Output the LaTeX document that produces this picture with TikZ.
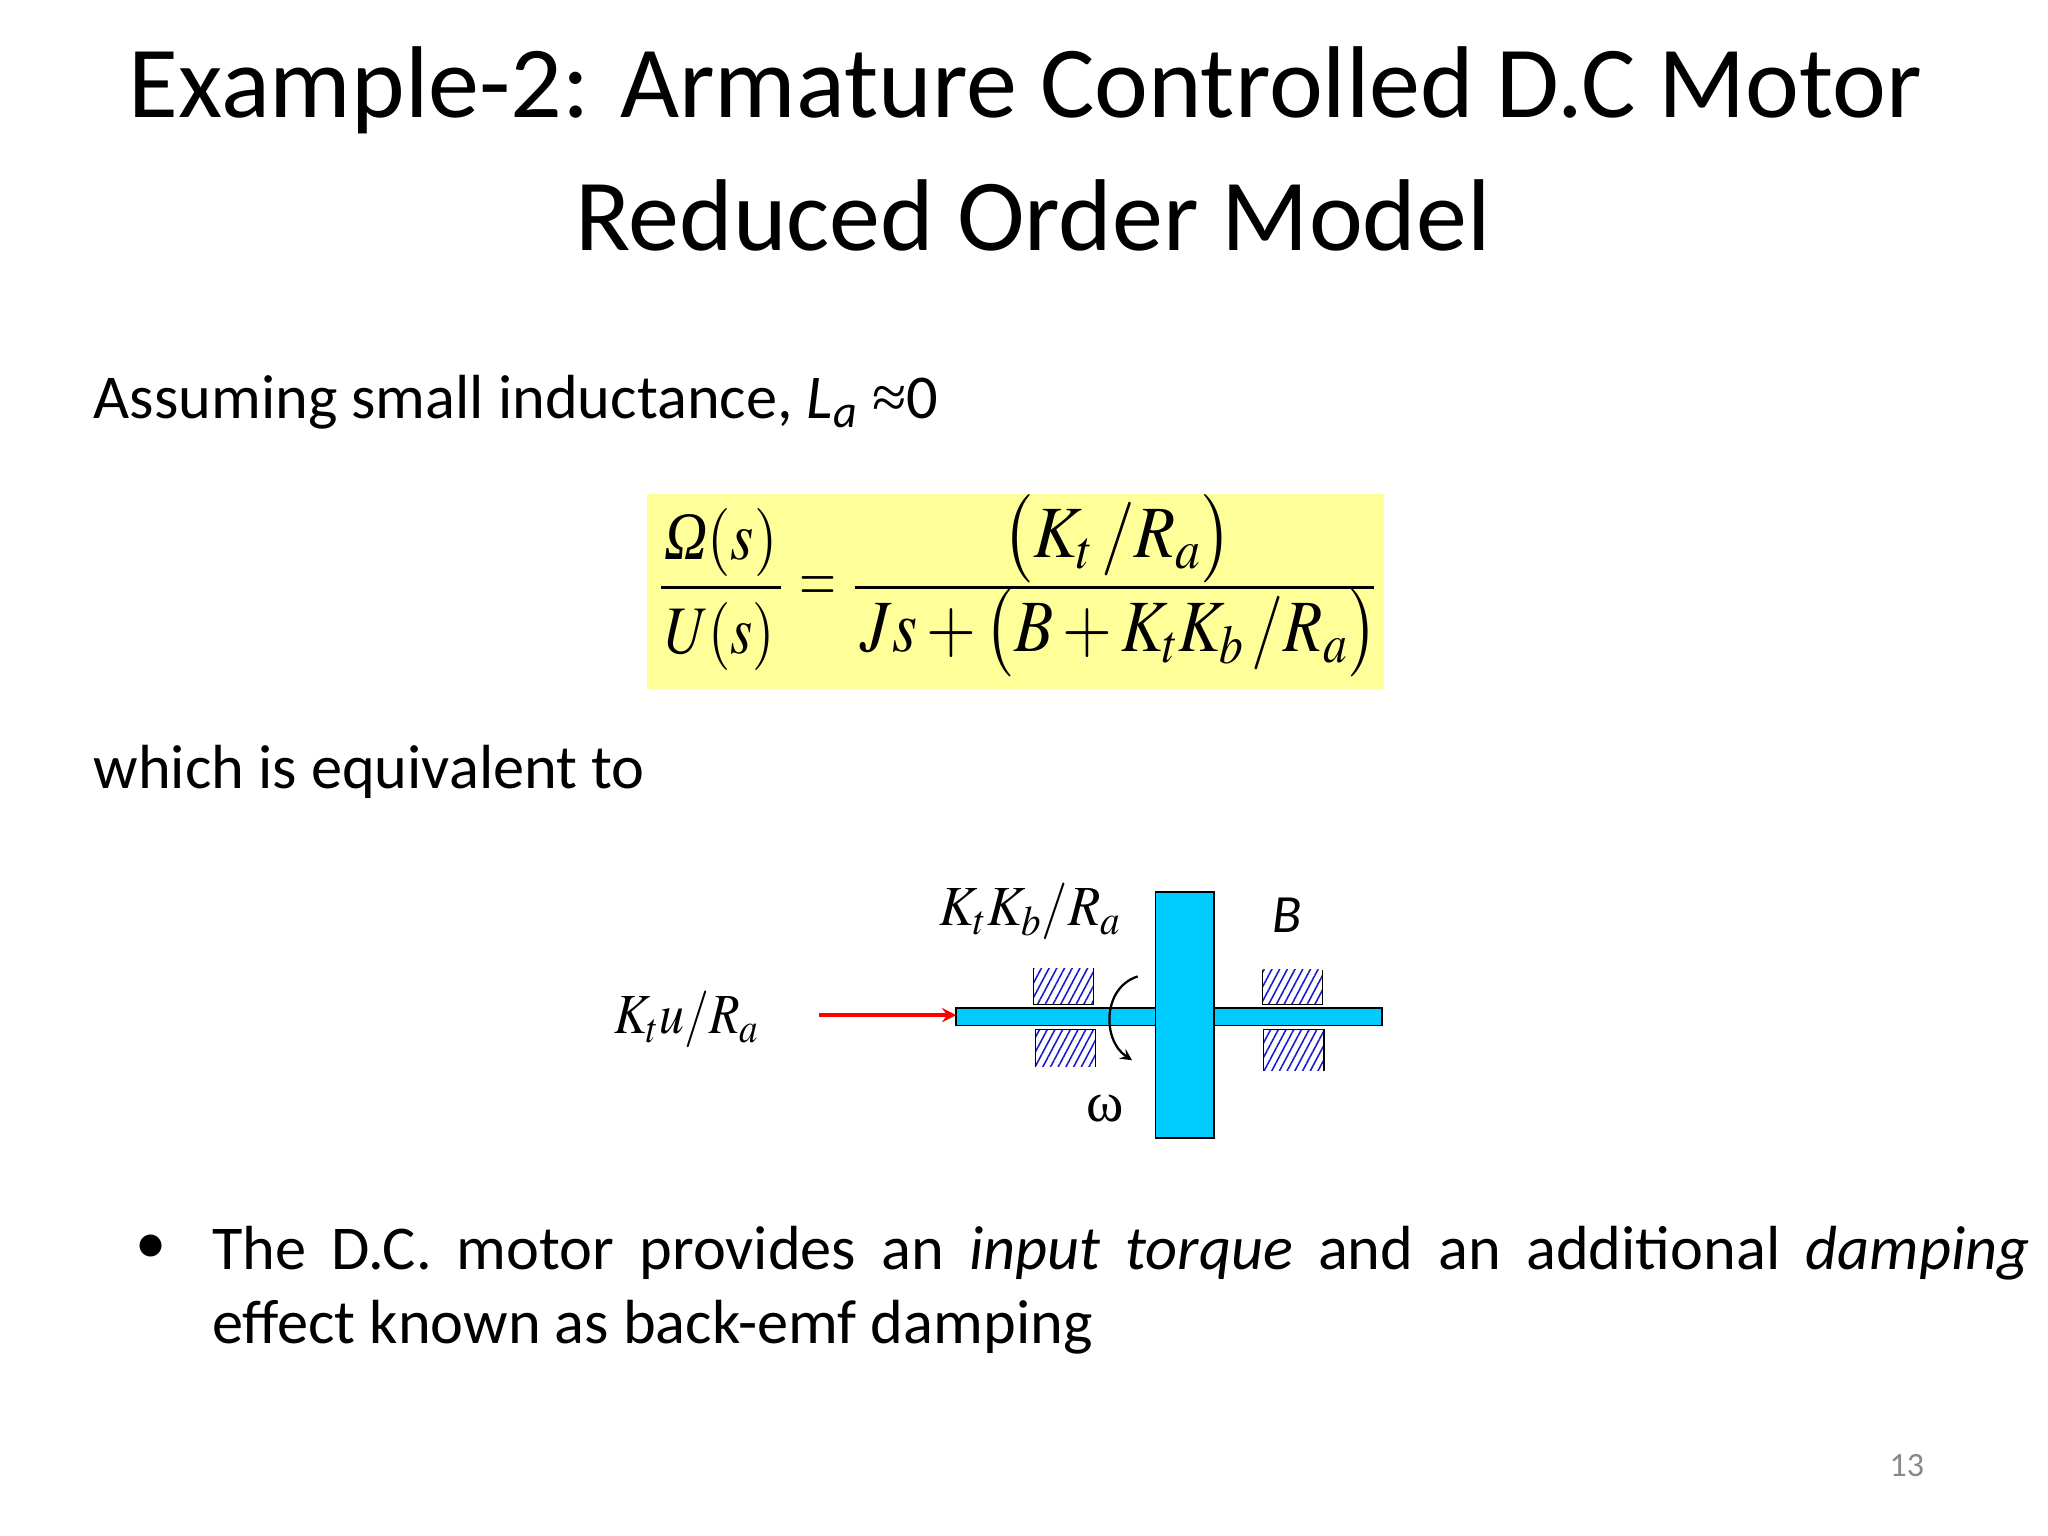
\documentclass[tikz,border=0pt]{standalone}
\usepackage{amsmath}
\usepackage{mathptmx}
\usepackage[no-math]{fontspec}
\setmainfont{Carlito}
\newfontfamily\timesf{Liberation Serif}
\usetikzlibrary{patterns.meta}
\definecolor{shaftblue}{HTML}{00CCFF}
\definecolor{formulayellow}{HTML}{FFFF99}
\definecolor{numgray}{HTML}{898989}
\definecolor{hatchblue}{HTML}{1A1ACC}
\newcommand{\fsz}[1]{\fontsize{#1}{1.19\dimexpr#1pt\relax}\selectfont}
\newcommand{\Omegait}{\mbox{\timesf\itshape Ω}}
\newcommand{\squeezed}[2][.88]{\scalebox{#1}[1]{#2}}
\tikzset{
  titletext/.style={font=\fsz{36}, inner sep=0pt, anchor=base},
  bodytext/.style={font=\fsz{22}, anchor=base west, inner sep=0pt},
  formula/.style={font=\fsz{24}, inner sep=0pt},
  formulabig/.style={font=\fsz{26}, inner sep=0pt},
  label/.style={font=\fsz{20}, inner sep=0pt},
  part/.style={draw=black, fill=shaftblue, semithick},
  bearing/.style={pattern={Lines[angle=62, distance=2.4pt, line width=.55pt]}, pattern color=hatchblue},
}
\begin{document}
\begin{tikzpicture}[>=stealth, very thick]
\useasboundingbox (0,0) rectangle (25.4,19.05);

\node [titletext] (title1) at (12.72, 17.59) {Example-2: Armature Controlled D.C Motor};
\node [titletext] (title2) at (12.81, 15.94) {Reduced Order Model};

\node [bodytext] (assume) at (1.14, 13.86) {Assuming small inductance, \textit{L}\textsubscript{\textit{a}} {\timesf ≈}0};
\node [bodytext] (equiv) at (1.14, 9.27) {which is equivalent to};

% formula
\fill [formulayellow] (8.03, 10.5) rectangle (17.17, 12.92);
\node [formula] (num1) at (8.94, 12.32) {\squeezed{$\Omegait(s)$}};
\node [formula] (den1) at (8.93, 11.15) {\squeezed[.84]{$U(s)$}};
\node [formula] (eq) at (10.14, 11.74) {\squeezed[.7]{$=$}};
\node [formulabig] (num2) at (13.86, 12.37) {\squeezed[.91]{$\bigl(K_t\,/R_a\bigr)$}};
\node [formulabig] (den2) at (13.88, 11.2) {\squeezed[.87]{$Js+\bigl(B+K_tK_b\,/R_a\bigr)$}};
\draw [line width=1pt] (8.2, 11.76)--(9.69, 11.76);
\draw [line width=1pt] (10.6, 11.76)--(17.04, 11.76);

% motor
\draw [part] (11.86, 6.33) rectangle (17.14, 6.55);
\draw [part] (14.33, 4.94) rectangle (15.06, 7.99);

\fill [bearing] (12.82, 6.59) rectangle (13.56, 7.04);
\draw [thin] (12.82, 7.04)--(12.82, 6.59)--(13.56, 6.59)--(13.56, 7.04);
\fill [bearing] (12.84, 5.82) rectangle (13.59, 6.28);
\draw [thin] (12.84, 5.82)--(12.84, 6.28)--(13.59, 6.28)--(13.59, 5.82);
\fill [bearing] (15.66, 6.59) rectangle (16.40, 7.02);
\draw [thin] (15.66, 7.02)--(15.66, 6.59)--(16.40, 6.59)--(16.40, 7.02);
\fill [bearing] (15.67, 5.77) rectangle (16.42, 6.28);
\draw [thin] (15.67, 5.77)--(15.67, 6.28)--(16.42, 6.28)--(16.42, 5.77);

\coordinate (torque) at (10.16, 6.46);
\coordinate (shaftend) at (11.86, 6.46);
\draw [->, red] (torque)--(shaftend);
\coordinate (spinstart) at (14.11, 6.94);
\coordinate (spinend) at (14.04, 5.9);
\draw [->, thick] (spinstart) .. controls (13.67, 6.8) and (13.67, 6.15) .. (spinend);

\node [label] (damp) at (12.78, 7.74) {\squeezed[.93]{$K_tK_b/R_a$}};
\node [label] (bval) at (15.96, 7.7) {\fsz{19}\textit{B}};
\node [label] (input) at (8.52, 6.4) {\squeezed{$K_tu/R_a$}};
\node [label] (omega) at (13.71, 5.3) {\timesf ω};

% bullet text
\node [font=\fsz{22}, inner sep=0pt] (dot) at (1.87, 3.56) {•};
\node [font=\fsz{22}, inner sep=0pt, anchor=base west, text width=22.54cm, align=justify] (bullet) at (2.61, 3.31)
  {The D.C. motor provides an \textit{input torque} and an additional \textit{damping}\linebreak
   effect known as back-emf damping};

\node [font=\fsz{12}, text=numgray, inner sep=0pt] (pagenum) at (23.65, 0.87) {13};
\end{tikzpicture}
\end{document}
